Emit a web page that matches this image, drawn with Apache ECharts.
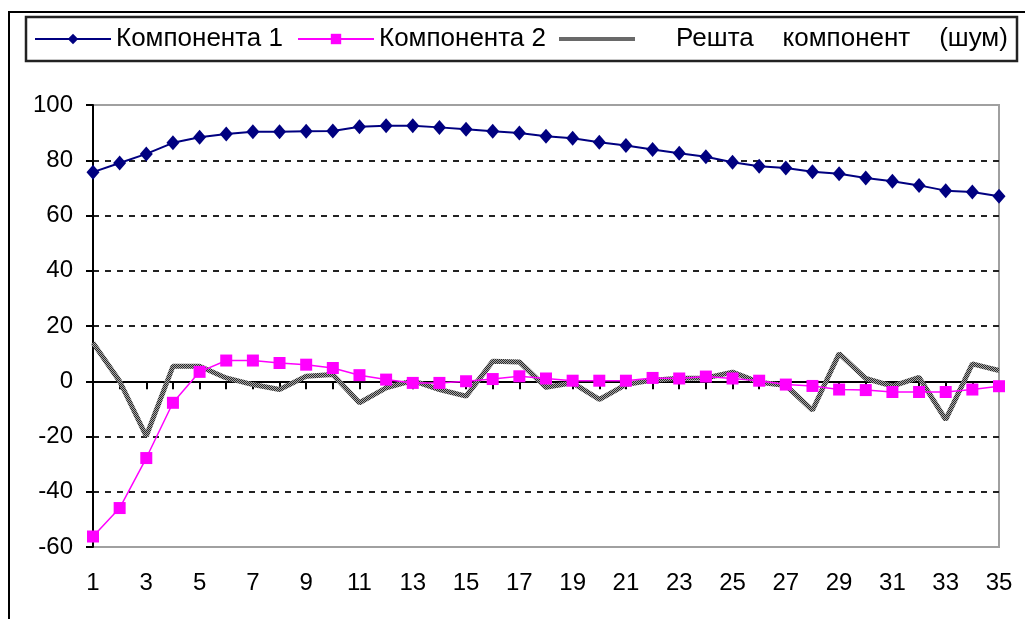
<!DOCTYPE html>
<html>
<head>
<meta charset="utf-8">
<script src="https://cdn.jsdelivr.net/npm/echarts@6/dist/echarts.min.js"></script>
<style>
  html, body { margin: 0; padding: 0; background: #fff; }
  #chart { width: 1025px; height: 619px; }
</style>
</head>
<body>
<div id="chart"></div>
<script>
// данные
var categories = ['1','2','3','4','5','6','7','8','9','10','11','12','13','14','15','16','17','18',
  '19','20','21','22','23','24','25','26','27','28','29','30','31','32','33','34','35'];
var comp1 = [75.7, 79.0, 82.3, 86.3, 88.3, 89.5, 90.3, 90.3, 90.5, 90.6, 92.1, 92.5, 92.5, 91.9, 91.2, 90.5,
  89.9, 88.7, 88.0, 86.5, 85.3, 83.9, 82.5, 81.3, 79.3, 77.8, 77.2, 75.8, 75.1, 73.6, 72.4, 70.9, 69.0, 68.5, 67.0];
var comp2 = [-56.2, -45.9, -27.8, -7.8, 3.4, 7.5, 7.5, 6.6, 6.0, 4.8, 2.2, 0.6, -0.6, -0.6, 0, 0.8,
  1.8, 1.0, 0.2, 0.2, 0.2, 1.2, 1.0, 1.7, 1.0, 0.2, -1.2, -1.7, -3.0, -3.2, -3.9, -3.9, -3.9, -3.0, -1.8];
var noise = [13.9, 0, -19.9, 5.4, 5.4, 1.2, -1.2, -3.0, 1.8, 2.4, -7.8, -2.4, 0.2, -3.0, -5.4, 7.2,
  7.0, -2.2, -0.6, -6.6, -1.2, 0.4, 1.1, 1.2, 3.3, -0.4, -1.5, -10.5, 10.0, 1.0, -1.8, 1.4, -13.9, 6.3, 3.9];
var names = ['Компонента 1', 'Компонента 2', 'Решта компонент (шум)'];

var font = 'Liberation Sans, Arial, sans-serif';

// текстура серой линии
var tex = document.createElement('canvas');
tex.width = 2; tex.height = 2;
var tc = tex.getContext('2d');
tc.fillStyle = '#a8a8a8'; tc.fillRect(0, 0, 2, 2);
tc.fillStyle = '#2a2a2a'; tc.fillRect(0, 0, 1, 1); tc.fillRect(1, 1, 1, 1);

var chart = echarts.init(document.getElementById('chart'));

function legendAt(left, name, width, fmt) {
  return {
    left: left,
    top: 26,
    padding: 0,
    itemGap: 0,
    itemWidth: width,
    itemHeight: 13,
    data: [name],
    formatter: fmt,
    selectedMode: false,
    textStyle: { fontSize: 26, fontFamily: font, color: '#000' }
  };
}

var leg3 = legendAt(557, names[2], 76, function (n) {
  return '     Решта    компонент    (шум)';
});
leg3.itemStyle = { opacity: 0 };
leg3.lineStyle = { width: 4 };

var option = {
  animation: false,
  backgroundColor: '#fff',
  graphic: [
    { type: 'rect', shape: { x: 9, y: 12, width: 1100, height: 700 },
      style: { fill: 'none', stroke: '#000', lineWidth: 2 } },
    { type: 'rect', shape: { x: 26, y: 17, width: 991, height: 44 },
      style: { fill: 'none', stroke: '#222', lineWidth: 2.5 } }
  ],
  legend: [
    legendAt(34, names[0], 76),
    legendAt(297, names[1], 76),
    leg3
  ],
  grid: {
    left: 93,
    right: 26,
    top: 105,
    bottom: 72,
    show: true,
    borderColor: '#a0a0a0',
    borderWidth: 2
  },
  xAxis: {
    type: 'category',
    boundaryGap: false,
    data: categories,
    axisLine: { lineStyle: { color: '#000', width: 2 } },
    axisTick: { interval: 0, length: 8, lineStyle: { color: '#000', width: 2 } },
    axisLabel: { interval: 1, margin: 24, fontSize: 24, fontFamily: font, color: '#000' },
    splitLine: { show: false }
  },
  yAxis: {
    type: 'value',
    min: -60,
    max: 100,
    interval: 20,
    axisLine: { show: true, lineStyle: { color: '#000', width: 2 } },
    axisTick: { show: true, length: 7, lineStyle: { color: '#000', width: 2 } },
    axisLabel: { margin: 20, fontSize: 24, fontFamily: font, color: '#000' },
    splitLine: {
      show: true,
      lineStyle: {
        color: ['rgba(0,0,0,0)', '#222', '#222', '#222', '#222', '#222', '#222', '#222', 'rgba(0,0,0,0)'],
        width: 2,
        type: [6, 6]
      }
    }
  },
  series: [
    {
      name: names[0],
      type: 'line',
      data: comp1,
      symbol: 'diamond',
      symbolSize: [13, 15],
      itemStyle: { color: '#000080' },
      lineStyle: { color: '#000080', width: 2 },
      z: 4
    },
    {
      name: names[1],
      type: 'line',
      data: comp2,
      symbol: 'rect',
      symbolSize: 12,
      itemStyle: { color: '#ff00ff' },
      lineStyle: { color: '#ff00ff', width: 1.5 },
      z: 3
    },
    {
      name: names[2],
      type: 'line',
      data: noise,
      symbol: 'none',
      itemStyle: { color: '#777' },
      lineStyle: { color: { image: tex, repeat: 'repeat' }, width: 5 },
      z: 2
    }
  ]
};

chart.setOption(option);
</script>
</body>
</html>
